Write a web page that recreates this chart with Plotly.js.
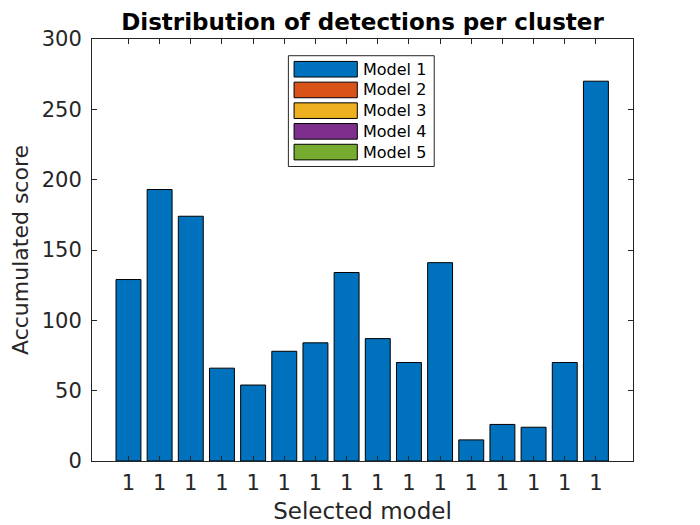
<!DOCTYPE html>
<html>
<head>
<meta charset="utf-8">
<script src="https://cdn.plot.ly/plotly-3.0.1.min.js"></script>
<style>
  body { margin: 0; background: #fff; }
  #chart { width: 700px; height: 525px; }
</style>
</head>
<body>
<div id="chart"></div>
<script>
// bar heights, one per cluster (all picked model 1)
var clusters = [1, 2, 3, 4, 5, 6, 7, 8, 9, 10, 11, 12, 13, 14, 15, 16];
var tickLabels = ['1', '1', '1', '1', '1', '1', '1', '1', '1', '1', '1', '1', '1', '1', '1', '1'];
var scores = [129, 193, 174, 66, 54, 78, 84, 134, 87, 70, 141, 15, 26, 24, 70, 270];

var modelNames = ['Model 1', 'Model 2', 'Model 3', 'Model 4', 'Model 5'];
var modelColors = ['#0072BD', '#D95319', '#EDB120', '#7E2F8E', '#77AC30'];

var axisColor = '#262626';
var font = 'DejaVu Sans, sans-serif';

var trace = {
    type: 'bar',
    x: clusters,
    y: scores,
    width: 0.8,
    marker: {
        color: modelColors[0],
        line: { color: '#000', width: 1 }
    },
    name: modelNames[0],
    showlegend: false,
    hoverinfo: 'y'
};

// legend drawn by hand so the swatches are the wide MATLAB style
// positions in pixels, converted to paper coords below
var plotL = 91.7, plotR = 633.3, plotT = 39.3, plotB = 461;
function px(x) { return (x - plotL) / (plotR - plotL); }
function py(y) { return (plotB - y) / (plotB - plotT); }

var shapes = [{
    type: 'rect', xref: 'paper', yref: 'paper',
    x0: px(288.3), x1: px(434.3), y0: py(166.7), y1: py(56),
    line: { color: axisColor, width: 1 }, fillcolor: '#fff'
}];
var annotations = [];
modelNames.forEach(function (name, i) {
    var top = 61.7 + i * 20.7;
    shapes.push({
        type: 'rect', xref: 'paper', yref: 'paper',
        x0: px(294), x1: px(357.3), y0: py(top + 15.6), y1: py(top),
        line: { color: '#000', width: 1 }, fillcolor: modelColors[i]
    });
    annotations.push({
        xref: 'paper', yref: 'paper',
        x: px(361), y: py(top + 7.8),
        xanchor: 'left', yanchor: 'middle',
        text: name, showarrow: false,
        font: { family: font, size: 16, color: '#000' }
    });
});

var layout = {
    width: 700,
    height: 525,
    margin: { l: plotL, r: 700 - plotR, t: plotT, b: 525 - plotB, pad: 0 },
    paper_bgcolor: '#fff',
    plot_bgcolor: '#fff',
    font: { family: font, color: axisColor },
    title: {
        text: '<b>Distribution of detections per cluster</b>',
        font: { family: font, size: 23, color: '#000' },
        x: 0.5, xref: 'paper', xanchor: 'center',
        y: 1 - 22 / 525, yanchor: 'middle'
    },
    xaxis: {
        range: [-0.17, 17.19],
        tickmode: 'array',
        tickvals: clusters,
        ticktext: tickLabels,
        ticks: 'inside', ticklen: 5, tickwidth: 1, tickcolor: axisColor,
        showline: true, linecolor: axisColor, linewidth: 1, mirror: 'ticks',
        showgrid: false, zeroline: false,
        ticklabelstandoff: 3,
        tickfont: { family: font, size: 21, color: axisColor },
        title: { text: 'Selected model', font: { family: font, size: 23, color: axisColor }, standoff: 8 }
    },
    yaxis: {
        range: [0, 300],
        tickmode: 'linear', tick0: 0, dtick: 50,
        ticks: 'inside', ticklen: 5, tickwidth: 1, tickcolor: axisColor,
        showline: true, linecolor: axisColor, linewidth: 1, mirror: 'ticks',
        showgrid: false, zeroline: false,
        ticklabelstandoff: 5,
        tickfont: { family: font, size: 21, color: axisColor },
        title: { text: 'Accumulated score', font: { family: font, size: 22, color: axisColor }, standoff: 7 }
    },
    shapes: shapes,
    annotations: annotations,
    bargap: 0.2
};

Plotly.newPlot('chart', [trace], layout, { displayModeBar: false, staticPlot: true });
</script>
</body>
</html>
